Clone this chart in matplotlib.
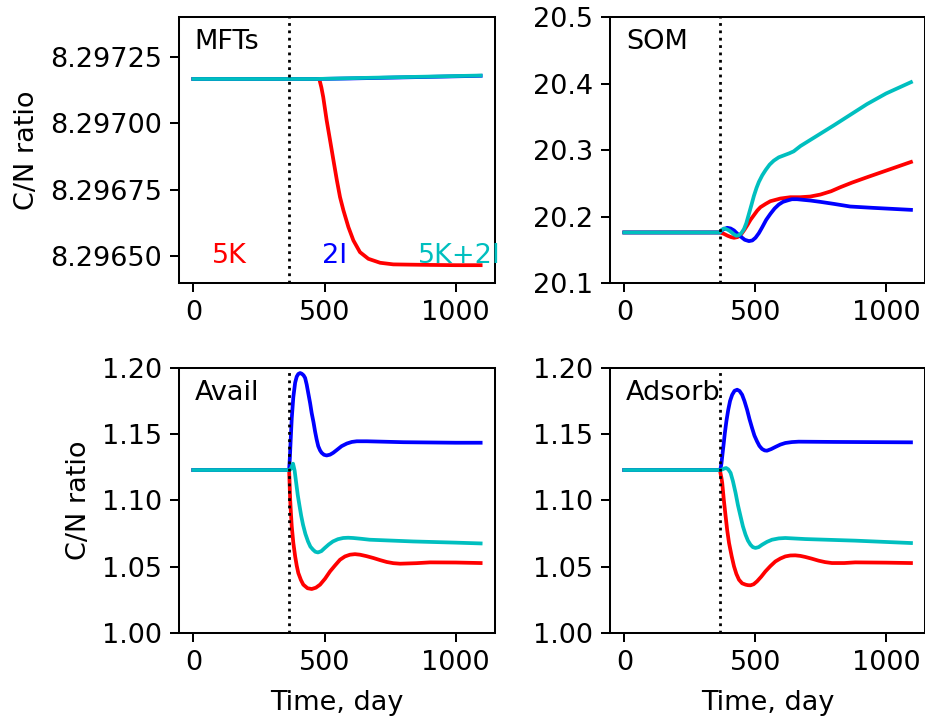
import matplotlib
matplotlib.use("Agg")
import matplotlib.pyplot as plt
from matplotlib.ticker import FormatStrFormatter

# ---------------- data ----------------
# MFTs
mft_t_c = [0, 365, 470, 600, 700, 800, 900, 1000, 1095]
mft_c = [8.297167, 8.297167, 8.297167, 8.297170, 8.297172, 8.297174, 8.297176, 8.297178, 8.297180]
mft_t_b = [0, 365, 470, 600, 700, 800, 900, 1000, 1095]
mft_b = [8.297167, 8.297167, 8.297167, 8.297169, 8.297171, 8.297173, 8.297175, 8.297177, 8.297179]
mft_t_r = [0, 365, 480, 488, 495, 508, 521, 534, 547, 559, 572, 591, 610, 635, 667, 712, 762, 826, 900, 1000, 1095]
mft_r = [8.297167, 8.297167, 8.297167, 8.297135, 8.297099, 8.297012, 8.296937, 8.296861, 8.296786,
         8.296723, 8.296673, 8.296610, 8.296560, 8.296516, 8.296491, 8.296476, 8.296470, 8.296469,
         8.296468, 8.296467, 8.296467]

# SOM
som_t_r = [0, 365, 380, 395, 408, 419, 432, 444, 457, 470, 482, 495, 508, 520, 540, 558, 577, 596, 634,
           672, 710, 749, 790, 825, 870, 927, 1000, 1095]
som_r = [20.176, 20.176, 20.174, 20.171, 20.169, 20.168, 20.169, 20.172, 20.179, 20.187, 20.195,
         20.202, 20.209, 20.214, 20.219, 20.223, 20.225, 20.227, 20.229, 20.229, 20.230, 20.233,
         20.238, 20.244, 20.251, 20.259, 20.269, 20.282]
som_t_b = [0, 365, 372, 380, 393, 406, 419, 432, 444, 460, 476, 489, 501, 514, 527, 542, 558, 574,
           590, 606, 622, 640, 660, 685, 711, 749, 800, 863, 950, 1095]
som_b = [20.176, 20.176, 20.179, 20.181, 20.183, 20.182, 20.179, 20.174, 20.170, 20.165, 20.163,
         20.164, 20.168, 20.175, 20.184, 20.195, 20.204, 20.212, 20.218, 20.222, 20.224, 20.226,
         20.226, 20.225, 20.224, 20.222, 20.219, 20.215, 20.213, 20.210]
som_t_c = [0, 365, 372, 381, 390, 400, 410, 419, 428, 438, 447, 457, 466, 476, 486, 495, 505, 514,
           527, 540, 555, 571, 590, 610, 630, 647, 673, 800, 927, 1000, 1095]
som_c = [20.176, 20.176, 20.180, 20.182, 20.181, 20.179, 20.176, 20.173, 20.171, 20.172, 20.175,
         20.181, 20.190, 20.204, 20.218, 20.231, 20.243, 20.252, 20.262, 20.270, 20.278, 20.284,
         20.289, 20.292, 20.295, 20.298, 20.306, 20.337, 20.369, 20.385, 20.402]

# Avail
av_t_b = [0, 365, 368, 371, 375, 381, 388, 394, 400, 407, 413, 420, 426, 432, 438, 445, 451, 458,
          464, 470, 476, 483, 489, 498, 508, 521, 533, 546, 565, 585, 604, 623, 661, 800, 1000, 1095]
av_b = [1.123, 1.123, 1.133, 1.146, 1.162, 1.178, 1.189, 1.1935, 1.1955, 1.1962, 1.1957, 1.1945,
        1.1925, 1.1875, 1.181, 1.1735, 1.166, 1.159, 1.152, 1.146, 1.141, 1.1378, 1.136, 1.1345,
        1.134, 1.1346, 1.136, 1.138, 1.141, 1.143, 1.1442, 1.1447, 1.1447, 1.144, 1.1436, 1.1436]
av_t_r = [0, 365, 367, 369, 372, 375, 381, 388, 394, 400, 410, 419, 435, 451, 467, 483, 502, 521, 540,
          559, 578, 597, 616, 635, 660, 686, 712, 737, 762, 788, 850, 902, 1000, 1095]
av_r = [1.123, 1.123, 1.112, 1.1006, 1.090, 1.0805, 1.068, 1.0578, 1.0508, 1.0453, 1.040, 1.0365,
        1.0338, 1.0332, 1.0342, 1.0365, 1.041, 1.0465, 1.051, 1.0553, 1.0578, 1.0591, 1.0595,
        1.0591, 1.058, 1.0566, 1.055, 1.0536, 1.0527, 1.0523, 1.0527, 1.0533, 1.0532, 1.0528]
av_t_c = [0, 365, 370, 375, 380, 386, 392, 398, 405, 411, 418, 427, 437, 446, 456, 465, 475, 488,
          501, 516, 532, 551, 571, 590, 609, 640, 672, 837, 1000, 1095]
av_c = [1.123, 1.123, 1.1235, 1.1255, 1.1278, 1.1225, 1.1132, 1.104, 1.0955, 1.0885, 1.0817,
        1.0748, 1.0691, 1.0652, 1.0629, 1.0613, 1.0608, 1.0618, 1.0642, 1.0668, 1.0691, 1.0708,
        1.0717, 1.0719, 1.0717, 1.0711, 1.0704, 1.0691, 1.0682, 1.0676]

# Adsorb
ad_t_b = [0, 365, 368, 371, 374, 379, 384, 390, 397, 404, 412, 421, 431, 440, 450, 459, 469, 478,
          488, 497, 507, 516, 526, 536, 545, 561, 577, 596, 615, 640, 666, 800, 1095]
ad_b = [1.123, 1.123, 1.1245, 1.128, 1.1333, 1.142, 1.1509, 1.160, 1.1685, 1.1752, 1.1798,
        1.1828, 1.1836, 1.1827, 1.1798, 1.175, 1.1685, 1.1615, 1.1547, 1.149, 1.1446, 1.1412,
        1.1389, 1.1378, 1.1376, 1.1388, 1.1404, 1.1422, 1.1434, 1.1441, 1.1444, 1.1442, 1.1439]
ad_t_r = [0, 365, 368, 371, 374, 380, 387, 393, 400, 410, 419, 428, 438, 450, 463, 472, 482, 494,
          507, 523, 539, 558, 577, 596, 615, 634, 653, 672, 691, 716, 742, 767, 793, 840, 882, 1000, 1095]
ad_r = [1.123, 1.123, 1.120, 1.117, 1.1132, 1.1005, 1.088, 1.0775, 1.0679, 1.058, 1.0503, 1.0446,
        1.0402, 1.0375, 1.0365, 1.0361, 1.036, 1.0368, 1.039, 1.0425, 1.0465, 1.0505, 1.054,
        1.0562, 1.0578, 1.0585, 1.0586, 1.0582, 1.0574, 1.0561, 1.0546, 1.0535, 1.0528, 1.0528,
        1.0533, 1.0531, 1.0528]
ad_t_c = [0, 365, 375, 382, 389, 397, 406, 415, 425, 434, 444, 453, 463, 472, 482, 491, 501, 513,
          526, 545, 564, 590, 615, 691, 882, 1095]
ad_c = [1.123, 1.123, 1.1235, 1.1242, 1.1245, 1.1235, 1.1208, 1.1145, 1.1057, 1.0965, 1.088,
        1.0805, 1.0742, 1.0698, 1.0666, 1.0648, 1.0642, 1.0648, 1.0666, 1.0688, 1.0704, 1.0714,
        1.0717, 1.0709, 1.0697, 1.0679]

panel_names = ["MFTs", "SOM", "Avail", "Adsorb"]
scenario_labels = ["5K", "2I", "5K+2I"]
scenario_colors = ["r", "b", "c"]
event_day = 365

mft_ticks = [8.29650, 8.29675, 8.29700, 8.29725]
som_ticks = [20.1, 20.2, 20.3, 20.4, 20.5]
cn_ticks = [1.00, 1.05, 1.10, 1.15, 1.20]
x_ticks = [0, 500, 1000]

# ---------------- style ----------------
FS = 19.5
plt.rcParams.update({
    "font.size": FS,
    "axes.linewidth": 1.45,
    "xtick.major.size": 6.5,
    "ytick.major.size": 6.5,
    "xtick.major.width": 1.45,
    "ytick.major.width": 1.45,
    "xtick.major.pad": 6.0,
    "ytick.major.pad": 6.0,
    "axes.labelpad": 7.0,
})

W, H = 925, 722
fig = plt.figure(figsize=(W / 100, H / 100), dpi=100)

def add_axes(l, r, t, b):
    return fig.add_axes([l / W, 1 - b / H, (r - l) / W, (b - t) / H])

ax_mft = add_axes(179, 495, 17, 283)
ax_som = add_axes(610, 925.3, 17, 283)
ax_av = add_axes(179, 495, 368, 633)
ax_ad = add_axes(610, 925.3, 368, 633)

lw = 2.7
series = [
    (ax_mft, [(mft_t_r, mft_r), (mft_t_b, mft_b), (mft_t_c, mft_c)]),
    (ax_som, [(som_t_r, som_r), (som_t_b, som_b), (som_t_c, som_c)]),
    (ax_av, [(av_t_r, av_r), (av_t_b, av_b), (av_t_c, av_c)]),
    (ax_ad, [(ad_t_r, ad_r), (ad_t_b, ad_b), (ad_t_c, ad_c)]),
]
for (ax, sers), name in zip(series, panel_names):
    for (t, v), col in zip(sers, scenario_colors):
        ax.plot(t, v, color=col, lw=lw, solid_joinstyle="round")
    ax.axvline(event_day, color="k", ls=":", lw=2.0)
    ax.set_xlim(-54.75, 1149.75)
    ax.set_xticks(x_ticks)
    ax.text(0.05, 0.905, name, transform=ax.transAxes, ha="left", va="center", fontsize=FS)

ax_mft.set_ylim(8.2964, 8.2974)
ax_mft.set_yticks(mft_ticks)
ax_mft.yaxis.set_major_formatter(FormatStrFormatter("%.5f"))
ax_som.set_ylim(20.1, 20.5)
ax_som.set_yticks(som_ticks)
ax_som.yaxis.set_major_formatter(FormatStrFormatter("%.1f"))
for ax in (ax_av, ax_ad):
    ax.set_ylim(1.0, 1.2)
    ax.set_yticks(cn_ticks)
    ax.yaxis.set_major_formatter(FormatStrFormatter("%.2f"))

ax_mft.set_ylabel("C/N ratio")
ax_av.set_ylabel("C/N ratio")
ax_av.set_xlabel("Time, day", labelpad=10)
ax_ad.set_xlabel("Time, day", labelpad=10)

for x, lab, col in zip([70, 490, 855], scenario_labels, scenario_colors):
    ax_mft.text(x, 8.2965, lab, color=col, ha="left", va="center", fontsize=FS)

fig.savefig("out.png", dpi=100)
